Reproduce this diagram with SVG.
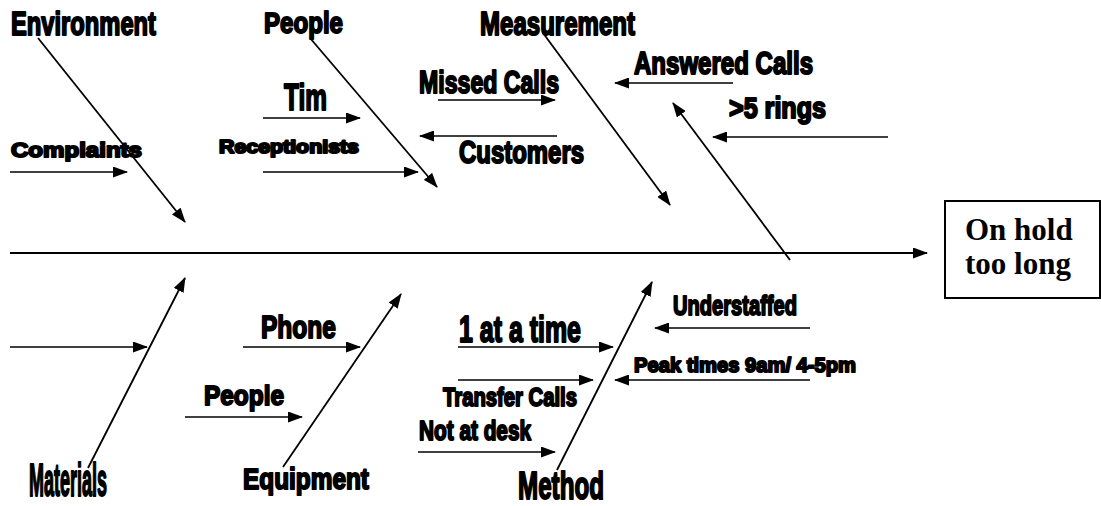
<svg xmlns="http://www.w3.org/2000/svg" width="1101" height="506" viewBox="0 0 1101 506">
<style>
.t{font-family:"Liberation Sans",Arial,sans-serif;font-weight:bold;fill:#000;stroke:#000;stroke-width:2;stroke-linejoin:round}
.ln{stroke:#000;stroke-width:1.5;fill:none}
.bone{stroke:#000;stroke-width:1.8;fill:none}
.spine{stroke:#000;stroke-width:2.2;fill:none}
.box{fill:#fff;stroke:#000;stroke-width:2}
.bt{font-family:"Liberation Serif","Times New Roman",serif;font-weight:bold;font-size:31px;fill:#000}
</style>
<defs>
<marker id="ah" viewBox="0 0 15 11" refX="14" refY="5.5" markerWidth="15" markerHeight="11" markerUnits="userSpaceOnUse" orient="auto">
<path d="M0,0 L15,5.5 L0,11 z" fill="#000"/>
</marker>
</defs>
<rect width="1101" height="506" fill="#fff"/>

<g id="connectors">
<line class="spine" x1="10" y1="253" x2="927" y2="253" marker-end="url(#ah)"/>
<line class="bone" x1="38" y1="38" x2="185" y2="222" marker-end="url(#ah)"/>
<line class="bone" x1="310" y1="38" x2="437" y2="187" marker-end="url(#ah)"/>
<line class="bone" x1="543" y1="33" x2="670" y2="205" marker-end="url(#ah)"/>
<line class="bone" x1="790" y1="260" x2="673" y2="103" marker-end="url(#ah)"/>
<line class="bone" x1="88" y1="468" x2="185" y2="278" marker-end="url(#ah)"/>
<line class="bone" x1="283" y1="467" x2="401" y2="294" marker-end="url(#ah)"/>
<line class="bone" x1="557" y1="470" x2="652" y2="282" marker-end="url(#ah)"/>
<line class="ln" x1="263" y1="118" x2="360" y2="118" marker-end="url(#ah)"/>
<line class="ln" x1="263" y1="172" x2="418" y2="172" marker-end="url(#ah)"/>
<line class="ln" x1="10" y1="172" x2="127" y2="172" marker-end="url(#ah)"/>
<line class="ln" x1="438" y1="100" x2="555" y2="100" marker-end="url(#ah)"/>
<line class="ln" x1="557" y1="136" x2="420" y2="136" marker-end="url(#ah)"/>
<line class="ln" x1="733" y1="83" x2="615" y2="83" marker-end="url(#ah)"/>
<line class="ln" x1="888" y1="137" x2="713" y2="137" marker-end="url(#ah)"/>
<line class="ln" x1="10" y1="347" x2="147" y2="347" marker-end="url(#ah)"/>
<line class="ln" x1="243" y1="347" x2="360" y2="347" marker-end="url(#ah)"/>
<line class="ln" x1="185" y1="417" x2="302" y2="417" marker-end="url(#ah)"/>
<line class="ln" x1="458" y1="347" x2="613" y2="347" marker-end="url(#ah)"/>
<line class="ln" x1="458" y1="380" x2="593" y2="380" marker-end="url(#ah)"/>
<line class="ln" x1="418" y1="452" x2="555" y2="452" marker-end="url(#ah)"/>
<line class="ln" x1="810" y1="328" x2="655" y2="328" marker-end="url(#ah)"/>
<line class="ln" x1="810" y1="380" x2="615" y2="380" marker-end="url(#ah)"/>
</g>

<g id="effect">
<rect class="box" x="945" y="201" width="155" height="97"/>
<text class="bt" x="965" y="240">On hold</text>
<text class="bt" x="965" y="274">too long</text>
</g>

<g id="environment"><text class="t" x="11" y="35" font-size="33" textLength="145" lengthAdjust="spacingAndGlyphs">Environment</text></g>
<g id="people-top"><text class="t" x="264" y="33" font-size="30" textLength="79" lengthAdjust="spacingAndGlyphs">People</text></g>
<g id="measurement"><text class="t" x="480" y="35" font-size="33" textLength="155" lengthAdjust="spacingAndGlyphs">Measurement</text></g>
<g id="tim"><text class="t" x="284" y="110" font-size="37" textLength="43" lengthAdjust="spacingAndGlyphs">Tim</text></g>
<g id="receptionists"><text class="t" x="219" y="153" font-size="18" textLength="140" lengthAdjust="spacingAndGlyphs">Receptionists</text></g>
<g id="complaints"><text class="t" x="11" y="157" font-size="21" textLength="131" lengthAdjust="spacingAndGlyphs">Complaints</text></g>
<g id="missed-calls"><text class="t" x="419" y="93" font-size="32" textLength="140" lengthAdjust="spacingAndGlyphs">Missed Calls</text></g>
<g id="customers"><text class="t" x="459" y="163" font-size="32" textLength="125" lengthAdjust="spacingAndGlyphs">Customers</text></g>
<g id="answered-calls"><text class="t" x="634" y="74" font-size="31" textLength="179" lengthAdjust="spacingAndGlyphs">Answered Calls</text></g>
<g id="rings"><text class="t" x="729" y="118" font-size="29" textLength="97" lengthAdjust="spacingAndGlyphs">&gt;5 rings</text></g>
<g id="phone"><text class="t" x="261" y="338" font-size="32" textLength="75" lengthAdjust="spacingAndGlyphs">Phone</text></g>
<g id="people-bottom"><text class="t" x="204" y="405" font-size="28" textLength="80" lengthAdjust="spacingAndGlyphs">People</text></g>
<g id="materials"><text class="t" x="29" y="496" font-size="47" textLength="78" lengthAdjust="spacingAndGlyphs">Materials</text></g>
<g id="equipment"><text class="t" x="243" y="489" font-size="30" textLength="126" lengthAdjust="spacingAndGlyphs">Equipment</text></g>
<g id="one-at-a-time"><text class="t" x="459" y="342" font-size="37" textLength="122" lengthAdjust="spacingAndGlyphs">1 at a time</text></g>
<g id="transfer-calls"><text class="t" x="443" y="406" font-size="26" textLength="134" lengthAdjust="spacingAndGlyphs">Transfer Calls</text></g>
<g id="not-at-desk"><text class="t" x="419" y="440" font-size="28" textLength="112" lengthAdjust="spacingAndGlyphs">Not at desk</text></g>
<g id="method"><text class="t" x="518" y="499" font-size="39" textLength="86" lengthAdjust="spacingAndGlyphs">Method</text></g>
<g id="understaffed"><text class="t" x="673" y="315" font-size="28" textLength="124" lengthAdjust="spacingAndGlyphs">Understaffed</text></g>
<g id="peak-times"><text class="t" x="634" y="372" font-size="21" textLength="222" lengthAdjust="spacingAndGlyphs">Peak times 9am/ 4-5pm</text></g>
</svg>
